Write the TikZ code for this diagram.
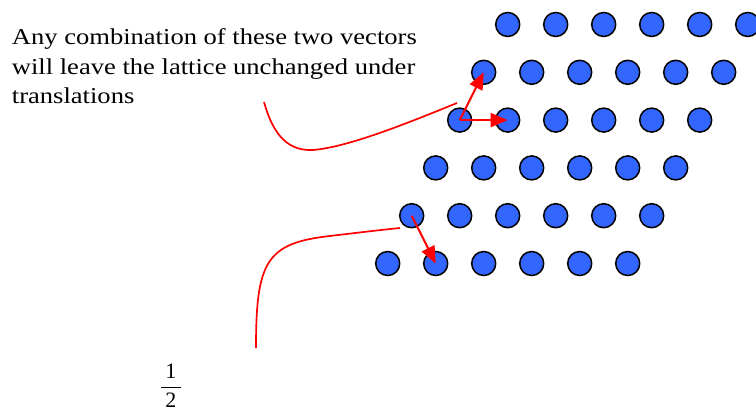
\documentclass[tikz,border=0pt]{standalone}
\usepackage{fontspec}
\setmainfont{Liberation Serif}
\newfontfamily\lblfont{Liberation Serif}[FakeStretch=1.17]
\usetikzlibrary{arrows.meta}
\definecolor{dotblue}{HTML}{3366FF}
\tikzset{
  dot/.style={circle,draw=black,line width=1.5pt,fill=dotblue,minimum size=24pt,inner sep=0pt},
  vec/.style={draw=red,line width=2pt,-{Triangle[length=17pt,width=14pt]}},
  curve/.style={draw=red,line width=1.7pt},
  lbl/.style={font=\lblfont\fontsize{22.7}{29.2}\selectfont,align=left,inner sep=0pt}
}
\begin{document}
\begin{tikzpicture}[x=1pt,y=-1pt]
\useasboundingbox (0,0) rectangle (756,412);
\foreach \r in {0,...,5}{
  \foreach \i in {0,...,5}{
    \node[dot] (c\r-\i) at ({507.7-24*\r+48*\i},{24.5+47.8*\r}) {};
  }
}
\node[lbl,anchor=base west] (txt) at (11.7,103.3) {Any combination of these two vectors\\will leave the lattice unchanged under\\translations};
\node[inner sep=0pt,anchor=base,font=\fontsize{22}{26}\selectfont] (frac) at (170.8,392.8) {$\displaystyle\frac{\hbox to 19.4pt{\hss 1\hss}}{\mbox{2}}$};
\draw[vec] (c2-0.center) -- (c1-0.center);
\draw[vec] (c2-0.center) -- (c2-1.center);
\draw[vec] (c4-0.center) -- (c5-1.center);
\coordinate (u0) at (264,102);
\coordinate (ub) at (313,150);
\coordinate (u1) at (457,103);
\draw[curve] (u0) .. controls (274,138) and (290,151) .. (ub) .. controls (350,147) and (415,120) .. (u1);
\coordinate (l0) at (256,348);
\coordinate (lm) at (330,236);
\coordinate (l1) at (400,228);
\draw[curve] (l0) .. controls (256,262) and (266,243) .. (lm) .. controls (355,233) and (380,230) .. (l1);
\end{tikzpicture}
\end{document}
